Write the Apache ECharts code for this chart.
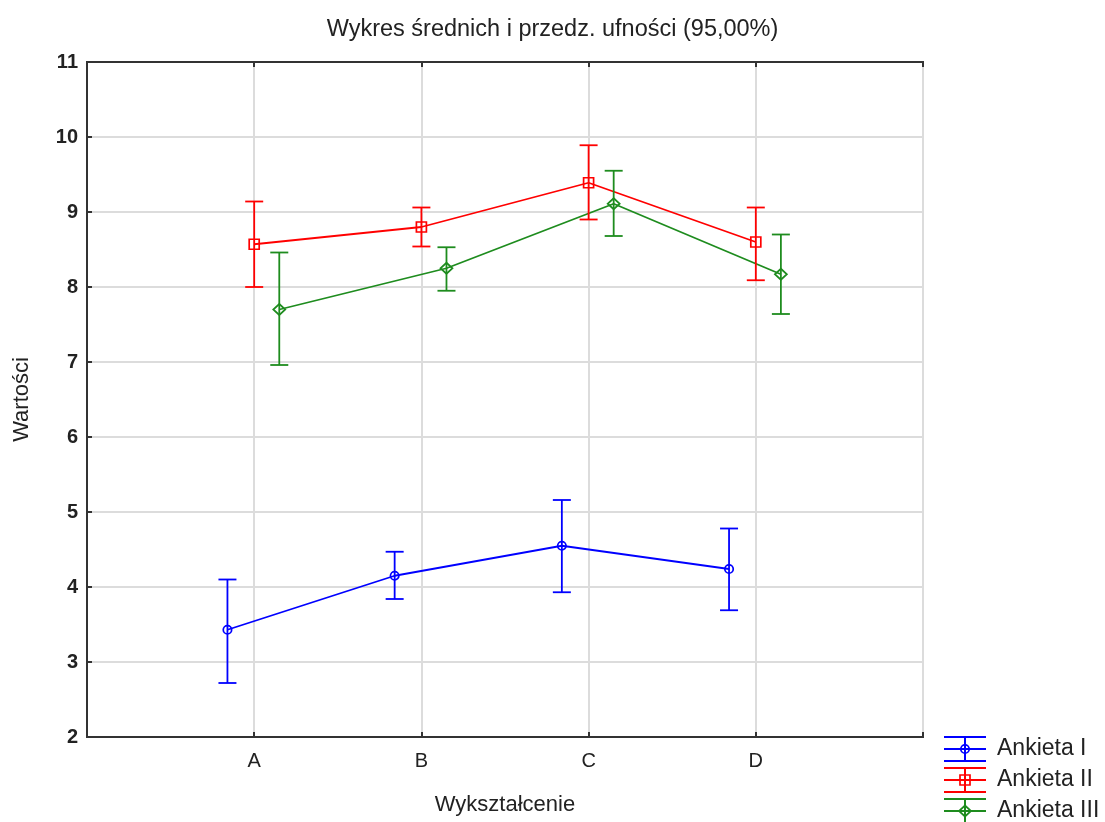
<!DOCTYPE html>
<html>
<head>
<meta charset="utf-8">
<script src="https://cdn.jsdelivr.net/npm/echarts@6/dist/echarts.min.js"></script>
<style>
html,body{margin:0;padding:0;background:#fff;}
#chart{width:1105px;height:822px;}
</style>
</head>
<body>
<div id="chart"></div>
<script>
// ---- data ----
const categories = ['A', 'B', 'C', 'D'];
const seriesNames = ['Ankieta I', 'Ankieta II', 'Ankieta III'];
const ankietaI_mean  = [3.43, 4.15, 4.55, 4.24];
const ankietaI_low   = [2.72, 3.84, 3.93, 3.69];
const ankietaI_high  = [4.10, 4.47, 5.16, 4.78];
const ankietaII_mean = [8.57, 8.80, 9.39, 8.60];
const ankietaII_low  = [8.00, 8.54, 8.90, 8.09];
const ankietaII_high = [9.14, 9.06, 9.89, 9.06];
const ankietaIII_mean = [7.70, 8.25, 9.11, 8.17];
const ankietaIII_low  = [6.96, 7.95, 8.68, 7.64];
const ankietaIII_high = [8.46, 8.53, 9.55, 8.70];
const yTicks = [2, 3, 4, 5, 6, 7, 8, 9, 10, 11];

// ---- styling ----
const colors = ['#0000FF', '#FF0000', '#1E8C1E'];
const offsets = [-0.16, 0, 0.15];
const markers = ['circle', 'square', 'diamond'];
const FONT = '"Liberation Sans", Arial, sans-serif';

const means = [ankietaI_mean, ankietaII_mean, ankietaIII_mean];
const lows = [ankietaI_low, ankietaII_low, ankietaIII_low];
const highs = [ankietaI_high, ankietaII_high, ankietaIII_high];

function markerShape(kind, cx, cy, color) {
  const style = { stroke: color, fill: 'rgba(0,0,0,0)', lineWidth: 1.7 };
  if (kind === 'circle') return { type: 'circle', shape: { cx: cx, cy: cy, r: 4.2 }, style: style };
  if (kind === 'square') return { type: 'rect', shape: { x: cx - 5, y: cy - 5, width: 10, height: 10 }, style: style };
  return { type: 'polygon', shape: { points: [[cx, cy - 5.5], [cx + 6, cy], [cx, cy + 5.5], [cx - 6, cy]] }, style: style };
}

const series = [];
seriesNames.forEach(function (name, s) {
  const lineData = means[s].map(function (m, i) { return [i + 1 + offsets[s], m]; });
  const barData = means[s].map(function (m, i) { return [i + 1 + offsets[s], lows[s][i], highs[s][i], m]; });
  series.push({
    name: name, type: 'line', data: lineData, showSymbol: false, symbol: 'none',
    lineStyle: { color: colors[s], width: 1.8 }, itemStyle: { color: colors[s] },
    z: 3, silent: true, animation: false
  });
  series.push({
    name: name, type: 'custom', data: barData, z: 4, silent: true, animation: false,
    renderItem: function (params, api) {
      const x = api.value(0);
      const pLo = api.coord([x, api.value(1)]);
      const pHi = api.coord([x, api.value(2)]);
      const pM = api.coord([x, api.value(3)]);
      const c = colors[s];
      const st = { stroke: c, lineWidth: 1.8 };
      return {
        type: 'group',
        children: [
          { type: 'line', shape: { x1: pLo[0], y1: pLo[1], x2: pHi[0], y2: pHi[1] }, style: st },
          { type: 'line', shape: { x1: pLo[0] - 9, y1: pLo[1], x2: pLo[0] + 9, y2: pLo[1] }, style: st },
          { type: 'line', shape: { x1: pHi[0] - 9, y1: pHi[1], x2: pHi[0] + 9, y2: pHi[1] }, style: st },
          markerShape(markers[s], pM[0], pM[1], c)
        ]
      };
    }
  });
});

// legend drawn as graphic (error-bar style icon)
const legendGraphics = [];
seriesNames.forEach(function (name, s) {
  const cy = 749 + s * 31;
  const c = colors[s];
  const st = { stroke: c, lineWidth: 2 };
  legendGraphics.push(
    { type: 'line', shape: { x1: 944, y1: cy - 12, x2: 986, y2: cy - 12 }, style: st },
    { type: 'line', shape: { x1: 944, y1: cy, x2: 986, y2: cy }, style: st },
    { type: 'line', shape: { x1: 944, y1: cy + 12, x2: 986, y2: cy + 12 }, style: st },
    { type: 'line', shape: { x1: 965, y1: cy - 12, x2: 965, y2: cy + 12 }, style: st },
    markerShape(markers[s], 965, cy, c),
    { type: 'text', x: 997, y: cy, style: { text: name, fill: '#222', font: '23px ' + FONT, verticalAlign: 'middle', align: 'left' } }
  );
});

const chart = echarts.init(document.getElementById('chart'), null, { renderer: 'canvas' });
chart.setOption({
  animation: false,
  backgroundColor: '#ffffff',
  title: {
    text: 'Wykres średnich i przedz. ufności (95,00%)',
    left: 'center', top: 13,
    textStyle: { fontFamily: FONT, fontSize: 23.5, fontWeight: 'normal', color: '#222' }
  },
  grid: { left: 87, right: 182, top: 62, bottom: 85, show: true, borderColor: '#333', borderWidth: 2, backgroundColor: 'rgba(0,0,0,0)' },
  xAxis: [{
    type: 'value', min: 0, max: categories.length + 1, interval: 1,
    name: 'Wykształcenie', nameLocation: 'middle', nameGap: 57,
    nameTextStyle: { fontFamily: FONT, fontSize: 22, color: '#222' },
    axisLine: { show: true, lineStyle: { color: '#333', width: 2 } },
    axisTick: { show: true, inside: true, length: 5, lineStyle: { color: '#333', width: 2 } },
    axisLabel: {
      margin: 14, fontFamily: FONT, fontSize: 20, color: '#222',
      formatter: function (v) { return categories[v - 1] || ''; }
    },
    splitLine: { show: true, lineStyle: { color: '#dcdcdc', width: 2 } }
  }, {
    type: 'value', position: 'top', min: 0, max: categories.length + 1, interval: 1,
    axisLine: { show: true, lineStyle: { color: '#333', width: 2 } },
    axisTick: { show: true, inside: true, length: 5, lineStyle: { color: '#333', width: 2 } },
    axisLabel: { show: false }, splitLine: { show: false }
  }],
  yAxis: {
    type: 'value', min: yTicks[0], max: yTicks[yTicks.length - 1], interval: 1,
    name: 'Wartości', nameLocation: 'middle', nameGap: 54, nameRotate: 90,
    nameTextStyle: { fontFamily: FONT, fontSize: 22, color: '#222' },
    axisLine: { show: true, lineStyle: { color: '#333', width: 2 } },
    axisTick: { show: true, inside: true, length: 5, lineStyle: { color: '#333', width: 2 } },
    axisLabel: { margin: 9, fontFamily: FONT, fontSize: 20, fontWeight: 'bold', color: '#222' },
    splitLine: { show: true, lineStyle: { color: '#dcdcdc', width: 2 } }
  },
  series: series,
  graphic: legendGraphics
});
</script>
</body>
</html>
